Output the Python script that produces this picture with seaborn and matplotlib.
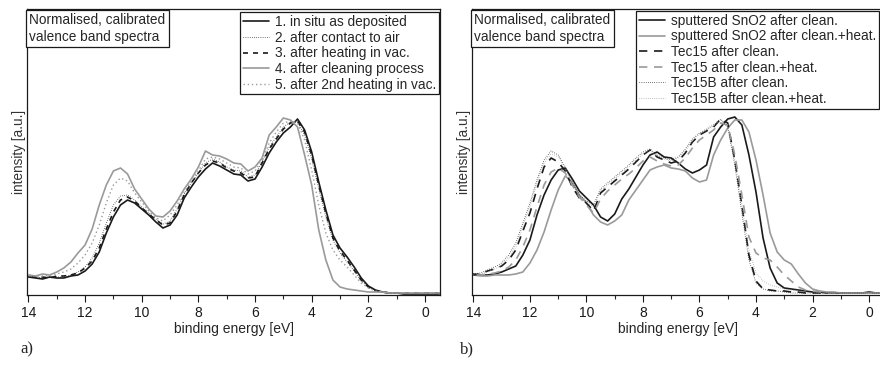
import numpy as np
import pandas as pd
import seaborn as sns
import matplotlib
matplotlib.use('Agg')
import matplotlib.pyplot as plt
from matplotlib import font_manager

# binding energy grid [eV], 14 -> -0.5 in 0.25 steps
ENERGY = np.arange(14.0, -0.51, -0.25)

# panel a) (intensity, arbitrary units)
A_INSITU = [18, 17, 16, 18, 17, 17, 19, 20, 24, 31, 43, 62, 78, 90, 95, 92, 86, 80, 73, 67,
            70, 80, 97, 108, 118, 126, 132, 129, 125, 121, 120, 114, 116, 128, 142, 153, 162, 168, 176, 165,
            143, 113, 85, 60, 47, 38, 28, 17, 9, 5, 3, 2, 2, 1, 1, 1, 1, 1, 1]
A_AIR = [19, 18, 17, 18, 18, 18, 20, 23, 28, 37, 52, 72, 90, 99, 100, 95, 88, 82, 76, 71,
         74, 86, 101, 112, 122, 132, 136, 133, 128, 125, 124, 118, 120, 133, 148, 158, 168, 173, 173, 160,
         136, 106, 78, 55, 42, 33, 24, 14, 8, 4, 3, 2, 2, 2, 2, 2, 2, 2, 2]
A_HEAT = [19, 18, 18, 17, 19, 19, 20, 22, 27, 34, 47, 66, 83, 95, 98, 94, 87, 81, 75, 70,
          72, 84, 100, 112, 122, 130, 134, 132, 127, 124, 122, 117, 118, 132, 146, 156, 166, 172, 174, 163,
          140, 110, 82, 57, 44, 35, 25, 15, 8, 4, 3, 2, 2, 2, 2, 2, 2, 2, 2]
A_CLEAN = [20, 19, 21, 20, 23, 27, 33, 42, 50, 66, 90, 110, 124, 127, 121, 106, 96, 86, 79, 78,
           84, 94, 106, 116, 128, 144, 140, 139, 136, 132, 131, 124, 128, 137, 160, 168, 177, 175, 168, 140,
           110, 65, 35, 15, 8, 6, 5, 4, 3, 3, 3, 2, 2, 2, 2, 2, 2, 2, 2]
A_HEAT2 = [20, 19, 19, 20, 21, 23, 26, 32, 40, 52, 70, 92, 110, 117, 114, 102, 93, 84, 77, 74,
           80, 90, 103, 114, 124, 136, 138, 136, 132, 128, 127, 121, 124, 135, 152, 163, 172, 174, 172, 155,
           125, 90, 62, 45, 35, 28, 20, 12, 7, 4, 3, 2, 2, 2, 2, 2, 2, 2, 2]

# panel b)
B_SNO2 = [21, 20, 20, 21, 23, 26, 29, 40, 55, 80, 100, 115, 125, 127, 116, 104, 97, 90, 78, 74,
          81, 96, 106, 118, 130, 140, 143, 138, 137, 132, 126, 122, 125, 130, 158, 168, 176, 178, 170, 140,
          103, 57, 27, 12, 7, 6, 5, 4, 3, 3, 2, 2, 2, 2, 2, 2, 3, 2, 2]
B_SNO2_HEAT = [20, 19, 19, 20, 20, 20, 21, 23, 32, 45, 63, 85, 105, 119, 113, 100, 92, 80, 73, 70,
               74, 80, 95, 105, 115, 125, 128, 130, 127, 126, 124, 117, 113, 115, 140, 155, 167, 175, 175, 163,
               135, 100, 62, 43, 35, 31, 21, 12, 6, 4, 3, 3, 2, 2, 2, 2, 2, 2, 2]
B_TEC15 = [20, 21, 24, 26, 29, 35, 45, 64, 82, 106, 128, 137, 133, 124, 108, 97, 92, 84, 102, 108,
           114, 120, 126, 133, 140, 145, 138, 135, 132, 134, 142, 153, 160, 164, 168, 176, 172, 135, 90, 40,
           14, 6, 5, 4, 4, 3, 3, 2, 2, 2, 2, 2, 2, 2, 2, 2, 2, 2, 2]
B_TEC15_HEAT = [20, 20, 21, 22, 24, 28, 35, 48, 65, 88, 110, 123, 127, 122, 110, 98, 90, 82, 96, 104,
                110, 116, 121, 127, 134, 138, 134, 131, 129, 130, 137, 147, 155, 160, 165, 172, 170, 140, 100, 58,
                42, 37, 35, 28, 20, 14, 8, 5, 4, 3, 2, 2, 2, 2, 2, 2, 2, 2, 2]
B_TEC15B = [21, 22, 25, 28, 32, 40, 52, 72, 92, 115, 135, 144, 140, 128, 112, 100, 94, 90, 106, 112,
            118, 124, 130, 137, 143, 146, 140, 137, 135, 138, 146, 156, 162, 166, 170, 176, 168, 130, 82, 35,
            12, 6, 4, 4, 3, 2, 2, 2, 2, 2, 2, 2, 2, 2, 2, 2, 2, 2, 2]
B_TEC15B_HEAT = [21, 21, 23, 26, 30, 37, 48, 68, 88, 112, 132, 141, 138, 127, 111, 99, 93, 88, 104, 110,
                 116, 122, 128, 135, 141, 144, 139, 136, 134, 137, 144, 154, 161, 165, 169, 175, 168, 135, 90, 45,
                 22, 14, 10, 8, 6, 5, 4, 3, 2, 2, 2, 2, 2, 2, 2, 2, 2, 2, 2]

BLACK = '#1a1a1a'
GRAY = '#9a9a9a'

SERIES_A = [
    ('1. in situ as deposited', A_INSITU, BLACK, '-', 1.2),
    ('2. after contact to air', A_AIR, BLACK, (0, (0.6, 1.6)), 0.7),
    ('3. after heating in vac.', A_HEAT, BLACK, (0, (3, 3)), 1.2),
    ('4. after cleaning process', A_CLEAN, GRAY, '-', 1.2),
    ('5. after 2nd heating in vac.', A_HEAT2, GRAY, (0, (1, 2)), 1.0),
]
SERIES_B = [
    ('sputtered SnO2 after clean.', B_SNO2, BLACK, '-', 1.2),
    ('sputtered SnO2 after clean.+heat.', B_SNO2_HEAT, GRAY, '-', 1.2),
    ('Tec15 after clean.', B_TEC15, BLACK, (0, (5, 4)), 1.2),
    ('Tec15 after clean.+heat.', B_TEC15_HEAT, GRAY, (0, (5, 4)), 1.2),
    ('Tec15B after clean.', B_TEC15B, BLACK, (0, (0.6, 1.6)), 0.7),
    ('Tec15B after clean.+heat.', B_TEC15B_HEAT, GRAY, (0, (0.6, 1.6)), 0.7),
]

sns.set_style('ticks')
names = {f.name for f in font_manager.fontManager.ttflist}
narrow = 'Liberation Sans Narrow' if 'Liberation Sans Narrow' in names else 'Liberation Sans'
plt.rcParams['font.family'] = ['Liberation Sans', 'DejaVu Sans']

fig = plt.figure(figsize=(8.8, 3.69), dpi=100)
ax_a = fig.add_axes([27 / 880, 1 - 295 / 369, 413 / 880, 286 / 369])
ax_b = fig.add_axes([472 / 880, 1 - 295 / 369, 412 / 880, 286 / 369])


def draw_panel(ax, series, legend_anchor):
    for label, vals, color, ls, lw in series:
        df = pd.DataFrame({'energy': ENERGY, 'intensity': vals})
        sns.lineplot(data=df, x='energy', y='intensity', ax=ax, color=color,
                     linestyle=ls, linewidth=lw, label=label)
    ax.set_xlim(14.05, -0.53)
    ax.set_ylim(0, 286)
    ax.set_xticks(np.arange(14, -1, -2))
    ax.set_xticks(np.arange(13, 0, -2), minor=True)
    ax.set_xticklabels([str(v) for v in range(14, -1, -2)], fontfamily=narrow, fontsize=10)
    ax.tick_params(axis='x', which='major', direction='out', length=5, width=0.8, pad=3, colors=BLACK)
    ax.tick_params(axis='x', which='minor', direction='out', length=3, width=0.8)
    ax.set_yticks([])
    ax.set_xlabel('binding energy [eV]', fontfamily=narrow, fontsize=10, labelpad=1)
    ax.set_ylabel('intensity [a.u.]', fontsize=9.8, color='#333333', labelpad=1)
    for sp in ax.spines.values():
        sp.set_visible(True)
        sp.set_color(BLACK)
        sp.set_linewidth(0.9)
    leg = ax.legend(loc='upper right', bbox_to_anchor=legend_anchor, fontsize=9.8,
                    frameon=True, fancybox=False, edgecolor=BLACK, framealpha=1,
                    borderpad=0.2, labelspacing=0.12, handlelength=1.9, handletextpad=0.45,
                    borderaxespad=0)
    leg.get_frame().set_linewidth(0.9)
    ax.text(0.006, 0.985, 'Normalised, calibrated\nvalence band spectra', transform=ax.transAxes,
            ha='left', va='top', fontsize=9.8, linespacing=1.25,
            bbox=dict(boxstyle='square,pad=0.25', facecolor='white', edgecolor=BLACK, linewidth=0.9))


draw_panel(ax_a, SERIES_A, (0.998, 0.988))
draw_panel(ax_b, SERIES_B, (0.988, 0.993))

fig.text(20 / 880, 1 - 349 / 369, 'a)', fontfamily='Liberation Serif', fontsize=12, va='center')
fig.text(460 / 880, 1 - 349 / 369, 'b)', fontfamily='Liberation Serif', fontsize=12, va='center')

fig.savefig('out.png', dpi=100)
